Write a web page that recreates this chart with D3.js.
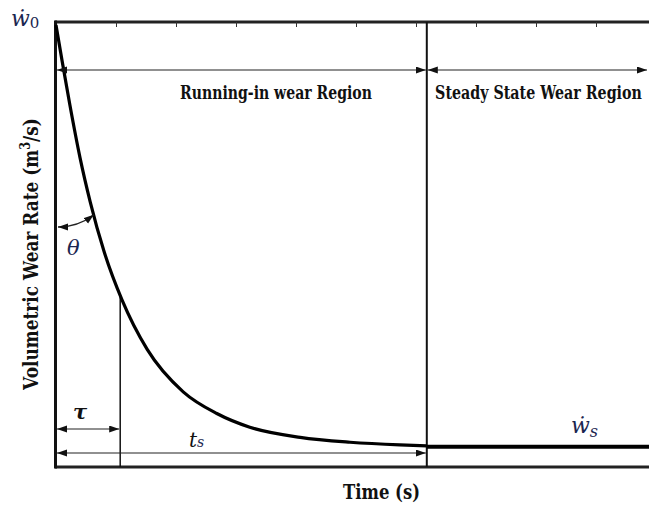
<!DOCTYPE html>
<html>
<head>
<meta charset="utf-8">
<title>Wear rate</title>
<style>
body { margin: 0; background: #fff; }
</style>
</head>
<body>
<script src="https://cdn.jsdelivr.net/npm/d3@7"></script>
<script>
// curve (time in arbitrary units, rate normalised to w0)
var timeVals = [0, 0.1, 0.23, 0.4, 0.57, 0.8, 1.1, 1.52, 2.12, 2.68, 3.23, 4.07, 4.9, 5.73, 6.18];
var rateVals = [1.0, 0.92, 0.82, 0.70, 0.600, 0.488, 0.378, 0.266, 0.170, 0.121, 0.090, 0.067, 0.056, 0.050, 0.048];
var steadyTime = [6.18, 9.9];
var steadyRate = [0.046, 0.046];
var tauTime = 1.07;
var tsTime = 6.18;
var thetaTime = 0.63;
var tickVals = [1, 2, 3, 4, 5, 6, 7, 8, 9];

var SERIF = "DejaVu Serif";

var width = 649, height = 507;
var svg = d3.select("body").append("svg")
	.attr("width", width)
	.attr("height", height);

var x = d3.scaleLinear().domain([0, 9.9]).range([56, 650]);
var y = d3.scaleLinear().domain([0, 1]).range([467, 25]);

var defs = svg.append("defs");
defs.append("marker")
	.attr("id", "arr")
	.attr("markerUnits", "userSpaceOnUse")
	.attr("markerWidth", 11).attr("markerHeight", 8)
	.attr("refX", 10).attr("refY", 3.5)
	.attr("orient", "auto-start-reverse")
	.append("path")
	.attr("d", "M0,0 L10,3.5 L0,7 z")
	.attr("fill", "#111");

// frame
svg.append("line").attr("x1", 55).attr("x2", 652).attr("y1", 22).attr("y2", 22)
	.attr("stroke", "#222").attr("stroke-width", 3);
svg.append("line").attr("x1", 55).attr("x2", 652).attr("y1", 467).attr("y2", 467)
	.attr("stroke", "#222").attr("stroke-width", 3);
svg.append("line").attr("x1", 55.5).attr("x2", 55.5).attr("y1", 20.5).attr("y2", 468.5)
	.attr("stroke", "#111").attr("stroke-width", 3);

var topAxis = d3.axisBottom(x).tickValues(tickVals).tickSize(5).tickFormat("");
var gTop = svg.append("g").attr("transform", "translate(0,22)").call(topAxis);
gTop.select(".domain").remove();
gTop.selectAll("line").attr("stroke", "#333");

// vertical markers
svg.append("line")
	.attr("x1", x(tsTime)).attr("x2", x(tsTime))
	.attr("y1", 22).attr("y2", 467)
	.attr("stroke", "#111").attr("stroke-width", 2);

var interp = function(t) {
	for (var i = 1; i < timeVals.length; i++) {
		if (t <= timeVals[i]) {
			var f = (t - timeVals[i - 1]) / (timeVals[i] - timeVals[i - 1]);
			return rateVals[i - 1] + f * (rateVals[i] - rateVals[i - 1]);
		}
	}
	return rateVals[rateVals.length - 1];
};

svg.append("line")
	.attr("x1", x(tauTime)).attr("x2", x(tauTime))
	.attr("y1", y(interp(tauTime))).attr("y2", 467)
	.attr("stroke", "#111").attr("stroke-width", 1.5);

// curve
var pts = timeVals.map(function(t, i) { return [t, rateVals[i]]; });
var line = d3.line()
	.x(function(d) { return x(d[0]); })
	.y(function(d) { return y(d[1]); })
	.curve(d3.curveMonotoneX);
svg.append("path").datum(pts)
	.attr("d", line)
	.attr("fill", "none").attr("stroke", "#000").attr("stroke-width", 3.2);

svg.append("path").datum(steadyTime.map(function(t, i) { return [t, steadyRate[i]]; }))
	.attr("d", d3.line().x(function(d) { return x(d[0]); }).y(function(d) { return y(d[1]); }))
	.attr("fill", "none").attr("stroke", "#000").attr("stroke-width", 4);

// arrows
function arrow(x1, x2, yy) {
	svg.append("line")
		.attr("x1", x1).attr("x2", x2).attr("y1", yy).attr("y2", yy)
		.attr("stroke", "#222").attr("stroke-width", 1.2)
		.attr("marker-start", "url(#arr)")
		.attr("marker-end", "url(#arr)");
}
arrow(x(0) + 1, x(tsTime) - 1, 70);
arrow(x(tsTime) + 1, 647, 70);
arrow(x(0) + 1, x(tauTime) - 1, 429);
arrow(x(0) + 1, x(tsTime) - 1, 453);

// theta arc
var ex = x(thetaTime), ey = y(interp(thetaTime));
var sx = 58, sy = 227;
var cy = ((ex - sx) * (ex - sx) + ey * ey - sy * sy) / (2 * (ey - sy));
var r = sy - cy;
svg.append("path")
	.attr("d", "M" + ex + "," + ey + " A" + r + "," + r + " 0 0 1 " + sx + "," + sy)
	.attr("fill", "none").attr("stroke", "#222").attr("stroke-width", 1.3)
	.attr("marker-start", "url(#arr)")
	.attr("marker-end", "url(#arr)");

// labels, squeezed horizontally to the narrow Times-like widths of the original
function fit(sel, w) {
	var nat = sel.node().getComputedTextLength();
	return nat > 0 ? w / nat : 1;
}
function label(cx, py, size, txt, w) {
	var g = svg.append("g");
	var t = g.append("text")
		.attr("text-anchor", "middle")
		.style("font-family", SERIF).style("font-weight", "bold")
		.style("font-size", size + "px").attr("fill", "#111")
		.text(txt);
	g.attr("transform", "translate(" + cx + "," + py + ") scale(" + fit(t, w) + ",1)");
	return t;
}
label(276, 99, 18, "Running-in wear Region", 192);
label(538.5, 99, 18, "Steady State Wear Region", 207);
label(381.5, 499, 20, "Time (s)", 77);

var gy = svg.append("g");
var yl = gy.append("text")
	.attr("text-anchor", "middle")
	.style("font-family", SERIF).style("font-weight", "bold")
	.style("font-size", "21px").attr("fill", "#111");
yl.append("tspan").text("Volumetric Wear Rate (m");
yl.append("tspan").attr("dy", -8).style("font-size", "14px").text("3");
yl.append("tspan").attr("dy", 8).text("/s)");
gy.attr("transform", "translate(38,254) rotate(-90) scale(" + fit(yl, 272) + ",1)");

function math(px, py, size) {
	return svg.append("text")
		.attr("x", px).attr("y", py)
		.style("font-family", SERIF).style("font-style", "italic")
		.style("font-size", size + "px").attr("fill", "#1b2650");
}
var w0 = math(11, 26, 22);
w0.append("tspan").text("\u1E87");
w0.append("tspan").attr("dy", 2).style("font-size", "15px").style("font-style", "normal").text("0");

var ws = math(571, 433, 22);
ws.append("tspan").text("\u1E87");
ws.append("tspan").attr("dy", 4).style("font-size", "16px").text("s");

math(67, 255, 21).text("\u03B8");

math(73, 419, 21).style("font-weight", "bold").attr("fill", "#111").text("\u03C4");

var ts = math(189, 447, 20).attr("fill", "#111");
ts.append("tspan").text("t");
ts.append("tspan").style("font-size", "14px").attr("fill", "#1b2650").text("s");
</script>
</body>
</html>
